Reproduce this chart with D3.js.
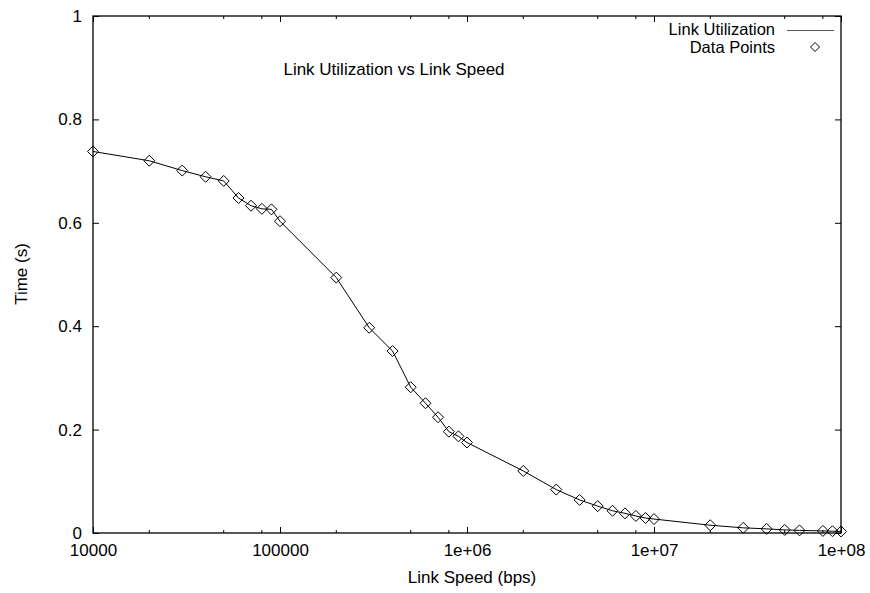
<!DOCTYPE html>
<html>
<head>
<meta charset="utf-8">
<script src="https://cdn.jsdelivr.net/npm/d3@7"></script>
<style>
  body { margin: 0; background: #fff; }
  text { font-family: "Liberation Sans", Arial, sans-serif; font-size: 17px; fill: #000; }
</style>
</head>
<body>
<div class="chart_box"></div>
<script>
// Data
const speeds = [
  1e4, 2e4, 3e4, 4e4, 5e4, 6e4, 7e4, 8e4, 9e4,
  1e5, 2e5, 3e5, 4e5, 5e5, 6e5, 7e5, 8e5, 9e5,
  1e6, 2e6, 3e6, 4e6, 5e6, 6e6, 7e6, 8e6, 9e6,
  1e7, 2e7, 3e7, 4e7, 5e7, 6e7, 8e7, 9e7, 1e8
];
const times = [
  0.738, 0.72, 0.701, 0.689, 0.681, 0.648, 0.633, 0.627, 0.626,
  0.603, 0.494, 0.397, 0.352, 0.282, 0.251, 0.224, 0.196, 0.187,
  0.175, 0.12, 0.084, 0.064, 0.052, 0.043, 0.038, 0.033, 0.029,
  0.027, 0.015, 0.01, 0.008, 0.006, 0.005, 0.004, 0.0035, 0.003
];
const xMajor = [1e4, 1e5, 1e6, 1e7, 1e8];
const xLabels = ["10000", "100000", "1e+06", "1e+07", "1e+08"];
const xMinorSteps = [2, 5, 8];
const yTicks = [0, 0.2, 0.4, 0.6, 0.8, 1];
const yLabels = ["0", "0.2", "0.4", "0.6", "0.8", "1"];

const data = speeds.map((s, i) => ({ speed: s, time: times[i] }));

const width = 870, height = 593;
const plotL = 93, plotR = 841, plotT = 16, plotB = 533;

const svg = d3
  .select(".chart_box")
  .append("svg")
  .attr("width", width)
  .attr("height", height);

const xScale = d3.scaleLog().domain([1e4, 1e8]).range([plotL, plotR]);
const yScale = d3.scaleLinear().domain([0, 1]).range([plotB, plotT]);

// minor ticks at 2, 5, 8 of each decade
const xMinor = [];
xMajor.slice(0, -1).forEach((d) => xMinorSteps.forEach((m) => xMinor.push(d * m)));

// bottom axis with labels
svg
  .append("g")
  .attr("transform", `translate(0, ${plotB})`)
  .call(
    d3.axisBottom(xScale)
      .tickValues(xMajor)
      .tickFormat((d, i) => xLabels[i])
      .tickSize(-6)
      .tickPadding(11)
  )
  .call((g) => g.select(".domain").remove());

// minor ticks bottom and top
[plotB, plotT].forEach((yy) => {
  const dir = yy === plotB ? -1 : 1;
  svg.append("g")
    .selectAll("line")
    .data(xMinor)
    .enter()
    .append("line")
    .attr("x1", (d) => xScale(d))
    .attr("x2", (d) => xScale(d))
    .attr("y1", yy)
    .attr("y2", yy + dir * 3)
    .attr("stroke", "#000");
});

// top axis, ticks only
svg
  .append("g")
  .attr("transform", `translate(0, ${plotT})`)
  .call(d3.axisTop(xScale).tickValues(xMajor).tickFormat("").tickSize(-6))
  .call((g) => g.select(".domain").remove());

// left axis with labels
svg
  .append("g")
  .attr("transform", `translate(${plotL}, 0)`)
  .call(
    d3.axisLeft(yScale)
      .tickValues(yTicks)
      .tickFormat((d, i) => yLabels[i])
      .tickSize(-6)
      .tickPadding(11)
  )
  .call((g) => g.select(".domain").remove());

// right axis, ticks only
svg
  .append("g")
  .attr("transform", `translate(${plotR}, 0)`)
  .call(d3.axisRight(yScale).tickValues(yTicks).tickFormat("").tickSize(-6))
  .call((g) => g.select(".domain").remove());

svg.selectAll(".tick text").style("font-size", "17px").style("font-family", "Liberation Sans, Arial, sans-serif");
svg.selectAll(".tick line").attr("stroke", "#000");

// frame
svg
  .append("rect")
  .attr("x", plotL)
  .attr("y", plotT)
  .attr("width", plotR - plotL)
  .attr("height", plotB - plotT)
  .attr("fill", "none")
  .attr("stroke", "#000")
  .attr("stroke-width", 1.3);

// line
const line = d3
  .line()
  .x((d) => xScale(d.speed))
  .y((d) => yScale(d.time));

svg
  .append("path")
  .datum(data)
  .attr("d", line)
  .attr("fill", "none")
  .attr("stroke", "#000")
  .attr("stroke-width", 1);

// diamond markers
const diamond = "M0,-5.5L5.5,0L0,5.5L-5.5,0Z";
svg
  .selectAll(".pt")
  .data(data)
  .enter()
  .append("path")
  .attr("class", "pt")
  .attr("d", diamond)
  .attr("transform", (d) => `translate(${xScale(d.speed)}, ${yScale(d.time)})`)
  .attr("fill", "none")
  .attr("stroke", "#000")
  .attr("stroke-width", 1);

// title inside plot
svg
  .append("text")
  .attr("x", 394)
  .attr("y", 75)
  .attr("text-anchor", "middle")
  .text("Link Utilization vs Link Speed");

// axis titles
svg
  .append("text")
  .attr("x", 472)
  .attr("y", 583)
  .attr("text-anchor", "middle")
  .text("Link Speed (bps)");

svg
  .append("text")
  .attr("transform", "translate(27, 274) rotate(-90)")
  .attr("text-anchor", "middle")
  .text("Time (s)");

// legend
svg
  .append("text")
  .attr("x", 775)
  .attr("y", 35)
  .attr("text-anchor", "end")
  .style("font-size", "16.5px")
  .text("Link Utilization");

svg
  .append("line")
  .attr("x1", 787)
  .attr("x2", 834)
  .attr("y1", 30.5)
  .attr("y2", 30.5)
  .attr("stroke", "#555")
  .attr("stroke-width", 1);

svg
  .append("text")
  .attr("x", 775)
  .attr("y", 53)
  .attr("text-anchor", "end")
  .style("font-size", "16.5px")
  .text("Data Points");

svg
  .append("path")
  .attr("d", "M0,-4.5L4.5,0L0,4.5L-4.5,0Z")
  .attr("transform", "translate(815, 47)")
  .attr("fill", "none")
  .attr("stroke", "#000")
  .attr("stroke-width", 1);
</script>
</body>
</html>
